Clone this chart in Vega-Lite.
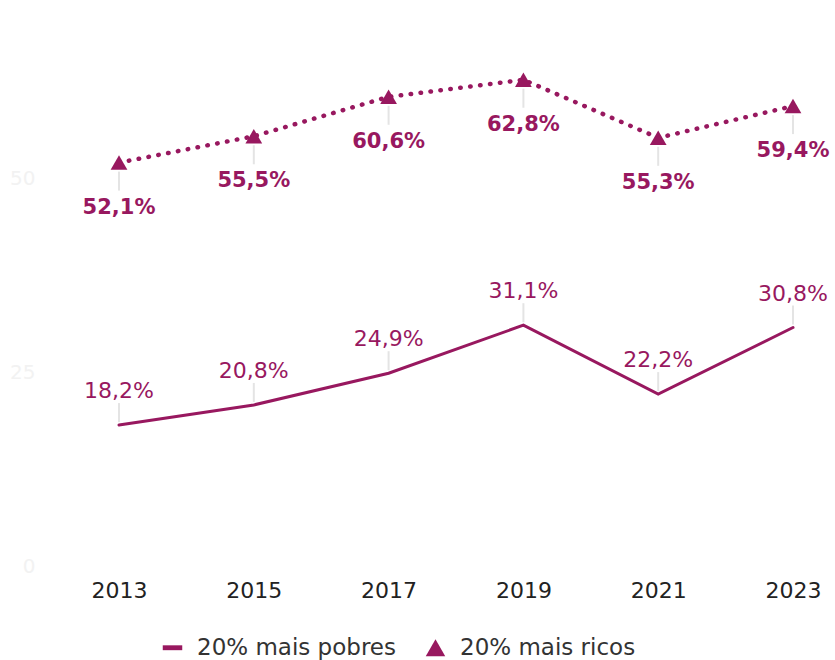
{
  "$schema": "https://vega.github.io/schema/vega-lite/v6.json",
  "autosize": "none",
  "width": 758,
  "height": 542,
  "padding": {"left": 77, "top": 24, "right": 0, "bottom": 94},
  "background": "white",
  "config": {
    "view": {"stroke": null},
    "font": "DejaVu Sans"
  },
  "data": {
    "values": [
      {"year": "2013", "series": "20% mais pobres", "value": 18.2, "label": "18,2%"},
      {"year": "2015", "series": "20% mais pobres", "value": 20.8, "label": "20,8%"},
      {"year": "2017", "series": "20% mais pobres", "value": 24.9, "label": "24,9%"},
      {"year": "2019", "series": "20% mais pobres", "value": 31.1, "label": "31,1%"},
      {"year": "2021", "series": "20% mais pobres", "value": 22.2, "label": "22,2%"},
      {"year": "2023", "series": "20% mais pobres", "value": 30.8, "label": "30,8%"},
      {"year": "2013", "series": "20% mais ricos", "value": 52.1, "label": "52,1%"},
      {"year": "2015", "series": "20% mais ricos", "value": 55.5, "label": "55,5%"},
      {"year": "2017", "series": "20% mais ricos", "value": 60.6, "label": "60,6%"},
      {"year": "2019", "series": "20% mais ricos", "value": 62.8, "label": "62,8%"},
      {"year": "2021", "series": "20% mais ricos", "value": 55.3, "label": "55,3%"},
      {"year": "2023", "series": "20% mais ricos", "value": 59.4, "label": "59,4%"}
    ]
  },
  "encoding": {
    "x": {
      "field": "year", "type": "ordinal",
      "scale": {"type": "point", "padding": 0.3116},
      "axis": {"title": null, "labelAngle": 0, "domain": false, "ticks": false, "labelFontSize": 22, "labelColor": "#222222", "labelPadding": 14, "labelFont": "DejaVu Sans"}
    },
    "y": {
      "field": "value", "type": "quantitative",
      "scale": {"domain": [0, 70], "nice": false, "zero": true},
      "axis": {"title": null, "values": [0, 25, 50], "domain": false, "ticks": false, "grid": false, "labelFontSize": 20, "labelColor": "#f2f2f2", "labelPadding": 42}
    }
  },
  "layer": [
    {
      "transform": [{"filter": "datum.series === '20% mais ricos'"}],
      "mark": {"type": "rule", "color": "#e4e4e4", "strokeWidth": 2, "yOffset": 9, "y2Offset": 28},
      "encoding": {"y2": {"field": "value"}}
    },
    {
      "transform": [{"filter": "datum.series === '20% mais pobres'"}],
      "mark": {"type": "rule", "color": "#e4e4e4", "strokeWidth": 2, "yOffset": -3, "y2Offset": -22},
      "encoding": {"y2": {"field": "value"}}
    },
    {
      "transform": [{"filter": "datum.series === '20% mais pobres'"}],
      "mark": {"type": "line", "color": "#98185f", "strokeWidth": 3, "strokeCap": "round"},
      "encoding": {}
    },
    {
      "transform": [{"filter": "datum.series === '20% mais ricos'"}],
      "mark": {"type": "line", "color": "#98185f", "strokeWidth": 4.5, "strokeCap": "round", "strokeDash": [0.5, 9.5]},
      "encoding": {}
    },
    {
      "transform": [{"filter": "datum.series === '20% mais ricos'"}],
      "mark": {"type": "point", "filled": true, "color": "#98185f", "size": 280, "opacity": 1},
      "encoding": {
        "shape": {
          "field": "series", "type": "nominal",
          "scale": {"domain": ["20% mais pobres", "20% mais ricos"], "range": ["M-1,-0.25L1,-0.25L1,0.25L-1,0.25Z", "triangle-up"]},
          "legend": {
            "title": null,
            "orient": "none",
            "legendX": 84,
            "legendY": 612,
            "direction": "horizontal",
            "labelFontSize": 23,
            "labelLimit": 400,
            "labelColor": "#333333",
            "labelFont": "DejaVu Sans",
            "symbolSize": 380,
            "symbolFillColor": "#98185f",
            "symbolStrokeWidth": 0,
            "symbolOpacity": 1,
            "columnPadding": 28,
            "labelOffset": 13
          }
        }
      }
    },
    {
      "transform": [{"filter": "datum.series === '20% mais ricos'"}],
      "mark": {"type": "text", "color": "#98185f", "fontSize": 21, "fontWeight": "bold", "dy": 45, "baseline": "middle", "align": "center"},
      "encoding": {"text": {"field": "label"}}
    },
    {
      "transform": [{"filter": "datum.series === '20% mais pobres'"}],
      "mark": {"type": "text", "color": "#98185f", "fontSize": 22, "dy": -34, "baseline": "middle", "align": "center"},
      "encoding": {"text": {"field": "label"}}
    }
  ]
}
